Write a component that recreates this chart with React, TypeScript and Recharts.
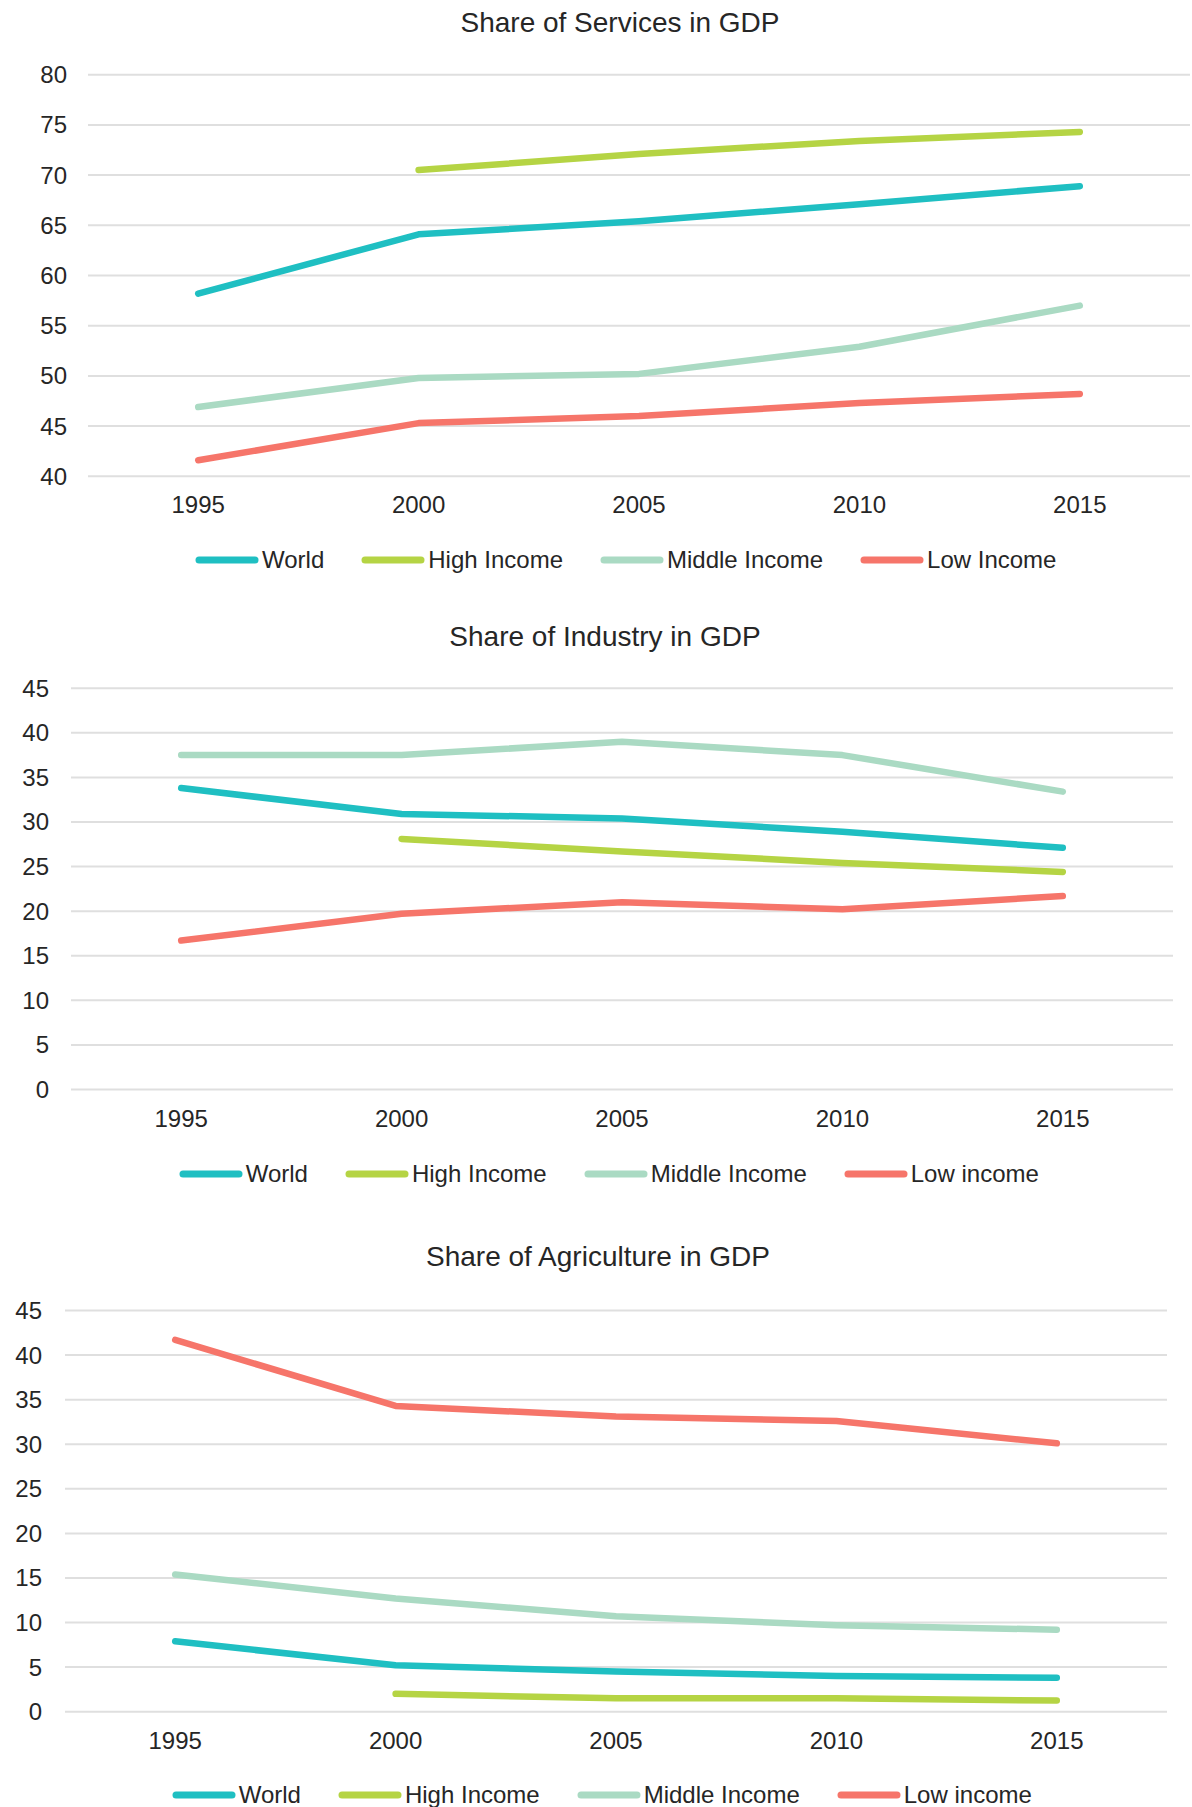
import React from "react";
import { LineChart, Line, XAxis, YAxis, CartesianGrid, Legend } from "recharts";

const years = ["1995", "2000", "2005", "2010", "2015"];

const servicesWorld = [58.2, 64.1, 65.4, 67.1, 68.9];
const servicesHigh = [null, 70.5, 72.1, 73.4, 74.3];
const servicesMiddle = [46.9, 49.8, 50.2, 52.9, 57.0];
const servicesLow = [41.6, 45.3, 46.0, 47.3, 48.2];
const servicesTicks = [40, 45, 50, 55, 60, 65, 70, 75, 80];

const industryWorld = [33.8, 30.9, 30.4, 28.9, 27.1];
const industryHigh = [null, 28.1, 26.7, 25.4, 24.4];
const industryMiddle = [37.5, 37.5, 39.0, 37.5, 33.4];
const industryLow = [16.7, 19.7, 21.0, 20.2, 21.7];

const agricultureWorld = [7.9, 5.2, 4.5, 4.0, 3.8];
const agricultureHigh = [null, 2.0, 1.5, 1.5, 1.25];
const agricultureMiddle = [15.4, 12.7, 10.7, 9.7, 9.2];
const agricultureLow = [41.7, 34.3, 33.1, 32.6, 30.1];

const zeroTo45Ticks = [0, 5, 10, 15, 20, 25, 30, 35, 40, 45];

const COLORS = {
  world: "#1FBFC2",
  high: "#B5D444",
  middle: "#AADAC3",
  low: "#F6756A",
};

const FONT = '"Liberation Sans", Arial, Helvetica, sans-serif';
const TEXT = "#262626";
const W = 1192;

const buildRows = (world, high, middle, low) =>
  years.map((year, i) => ({
    year,
    world: world[i],
    high: high[i],
    middle: middle[i],
    low: low[i],
  }));

const makeSeries = (lowLabel: string) => [
  { key: "world", name: "World", color: COLORS.world },
  { key: "high", name: "High Income", color: COLORS.high },
  { key: "middle", name: "Middle Income", color: COLORS.middle },
  { key: "low", name: lowLabel, color: COLORS.low },
];

// legend drawn in series order (recharts sorts the payload by name otherwise)
const makeLegend = (start: number, series: any[]) => () => (
  <div
    style={{
      display: "flex",
      alignItems: "center",
      height: 30,
      paddingLeft: start,
      fontFamily: FONT,
      fontSize: 24,
      color: TEXT,
      lineHeight: "30px",
      whiteSpace: "nowrap",
    }}
  >
    {series.map((s) => (
      <div
        key={s.key}
        style={{ display: "flex", alignItems: "center", marginRight: 37 }}
      >
        <svg width={64} height={10} style={{ display: "block" }}>
          <line
            x1={4}
            x2={60}
            y1={5}
            y2={5}
            stroke={s.color}
            strokeWidth={7}
            strokeLinecap="round"
          />
        </svg>
        <span style={{ marginLeft: 3 }}>{s.name}</span>
      </div>
    ))}
  </div>
);

const ChartPanel = ({ title, data, domain, ticks, lowLabel, layout }) => {
  const {
    top,
    height,
    plotTop,
    plotBottom,
    plotLeft,
    plotRight,
    legendMid,
    legendStart,
    titleX,
    titleBaseline,
    labelGap,
  } = layout;
  const series = makeSeries(lowLabel);
  const legendH = 30;
  const legendTop = legendMid - top - legendH / 2;
  const xAxisHeight = legendTop - (plotBottom - top);
  const bottomMargin = height - legendTop - legendH;
  const band = (plotRight - plotLeft) / years.length;

  return (
    <div style={{ position: "absolute", top, left: 0, width: W, height }}>
      <div
        style={{
          position: "absolute",
          left: titleX,
          top: titleBaseline - top - 23.7,
          transform: "translateX(-50%)",
          fontFamily: FONT,
          fontSize: 28,
          lineHeight: "28px",
          color: TEXT,
          whiteSpace: "nowrap",
        }}
      >
        {title}
      </div>
      <LineChart
        width={W}
        height={height}
        data={data}
        margin={{
          top: plotTop - top,
          right: W - plotRight,
          left: 0,
          bottom: bottomMargin,
        }}
      >
        <CartesianGrid vertical={false} stroke="#DFDFDF" strokeWidth={2} />
        <XAxis
          dataKey="year"
          axisLine={false}
          tickLine={false}
          tickSize={0}
          tickMargin={20}
          height={xAxisHeight}
          padding={{ left: band / 2, right: band / 2 }}
          tick={{ fontSize: 24, fill: TEXT, fontFamily: FONT }}
          interval={0}
        />
        <YAxis
          type="number"
          domain={domain}
          ticks={ticks}
          interval={0}
          width={plotLeft}
          axisLine={false}
          tickLine={false}
          tickSize={0}
          tickMargin={labelGap}
          tick={{ fontSize: 24, fill: TEXT, fontFamily: FONT }}
        />
        {series.map((s) => (
          <Line
            key={s.key}
            dataKey={s.key}
            name={s.name}
            stroke={s.color}
            strokeWidth={6.5}
            dot={false}
            activeDot={false}
            isAnimationActive={false}
            strokeLinecap="round"
            strokeLinejoin="round"
          />
        ))}
        <Legend
          verticalAlign="bottom"
          align="left"
          wrapperStyle={{ left: 0, width: W }}
          content={makeLegend(legendStart, series)}
        />
      </LineChart>
    </div>
  );
};

const App = () => {
  return (
    <div
      style={{
        position: "relative",
        width: W,
        height: 1807,
        overflow: "hidden",
        background: "#fff",
      }}
    >
      <style>{`body { margin: 0; }`}</style>
      <ChartPanel
        title="Share of Services in GDP"
        data={buildRows(servicesWorld, servicesHigh, servicesMiddle, servicesLow)}
        domain={[40, 80]}
        ticks={servicesTicks}
        lowLabel="Low Income"
        layout={{
          top: 0,
          height: 600,
          plotTop: 74.7,
          plotBottom: 476.3,
          plotLeft: 88,
          plotRight: 1190,
          legendMid: 560,
          legendStart: 195,
          titleX: 620,
          titleBaseline: 32.3,
          labelGap: 21,
        }}
      />
      <ChartPanel
        title="Share of Industry in GDP"
        data={buildRows(industryWorld, industryHigh, industryMiddle, industryLow)}
        domain={[0, 45]}
        ticks={zeroTo45Ticks}
        lowLabel="Low income"
        layout={{
          top: 600,
          height: 620,
          plotTop: 688.2,
          plotBottom: 1089.5,
          plotLeft: 71,
          plotRight: 1173,
          legendMid: 1173.6,
          legendStart: 178.7,
          titleX: 605,
          titleBaseline: 646.4,
          labelGap: 22,
        }}
      />
      <ChartPanel
        title="Share of Agriculture in GDP"
        data={buildRows(agricultureWorld, agricultureHigh, agricultureMiddle, agricultureLow)}
        domain={[0, 45]}
        ticks={zeroTo45Ticks}
        lowLabel="Low income"
        layout={{
          top: 1220,
          height: 590,
          plotTop: 1310.5,
          plotBottom: 1711.7,
          plotLeft: 65,
          plotRight: 1167,
          legendMid: 1795,
          legendStart: 171.7,
          titleX: 598,
          titleBaseline: 1266.6,
          labelGap: 23,
        }}
      />
    </div>
  );
};

export default App;
